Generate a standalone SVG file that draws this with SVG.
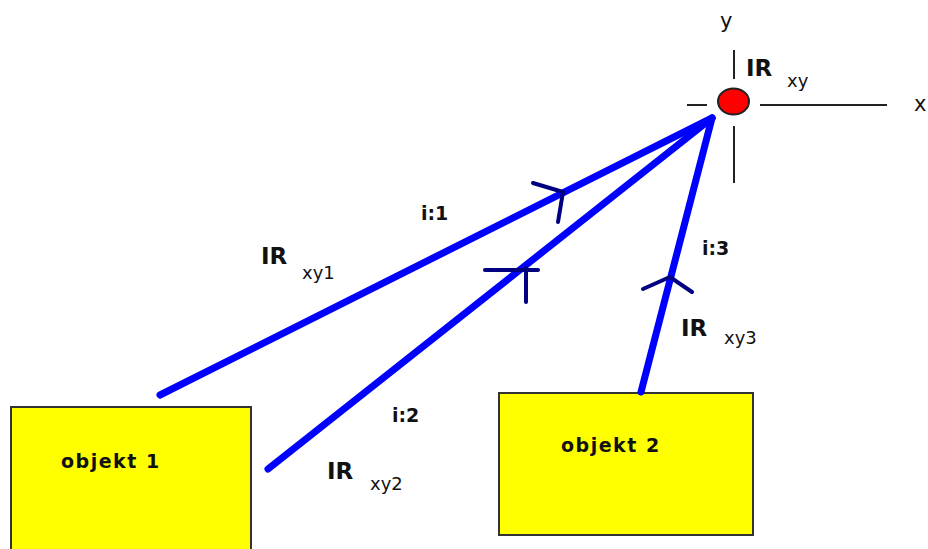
<svg xmlns="http://www.w3.org/2000/svg" width="928" height="549" viewBox="0 0 928 549">
<style>
.box{fill:#ffff00;stroke:#333;stroke-width:2}
.ray{stroke:#0000ff;stroke-width:7;stroke-linecap:round;fill:none}
.arr{stroke:#000080;stroke-width:4;stroke-linecap:round;fill:none}
.axis{stroke:#222;stroke-width:2;fill:none}
text{font-family:"DejaVu Sans","Liberation Sans",sans-serif;fill:#111}
.lbl{font-size:19px;font-weight:bold}
.obj{font-size:19px;font-weight:bold;letter-spacing:1.5px}
.ir{font-size:23px;font-weight:bold}
.sub{font-size:18px}
.ax{font-size:21px}
</style>
<rect width="928" height="549" fill="#fff"/>
<g id="obj1"><rect class="box" x="11" y="407" width="240" height="160"/><text class="obj" x="61" y="468">objekt 1</text></g>
<g id="obj2"><rect class="box" x="499" y="393" width="254" height="142"/><text class="obj" x="561" y="452">objekt 2</text></g>
<g id="axes">
<line class="axis" x1="687" y1="105" x2="707" y2="105"/>
<line class="axis" x1="760" y1="105" x2="887" y2="105"/>
<line class="axis" x1="734" y1="50" x2="734" y2="79"/>
<line class="axis" x1="734" y1="126" x2="734" y2="183"/>
<text class="ax" x="720" y="28">y</text>
<text class="ax" x="914" y="111">x</text>
</g>
<g id="point"><ellipse cx="733.5" cy="101.5" rx="15.5" ry="13" fill="#ff0000" stroke="#222" stroke-width="2"/>
<text class="ir" x="746" y="76">IR</text><text class="sub" x="787" y="87">xy</text></g>
<g id="connectors">
<line class="ray" x1="160" y1="395" x2="712" y2="118"/>
<line class="ray" x1="268" y1="469" x2="712" y2="118"/>
<line class="ray" x1="641" y1="392" x2="712" y2="118"/>
<polyline class="arr" points="533,183 563,192 558,222"/>
<polyline class="arr" points="485,270 538,270"/>
<line class="arr" x1="526" y1="268" x2="526" y2="302"/>
<polyline class="arr" points="643,289 670,277 692,292"/>
</g>
<g id="labels">
<text class="lbl" x="421" y="220">i:1</text>
<text class="ir" x="261" y="264">IR</text><text class="sub" x="302" y="279">xy1</text>
<text class="lbl" x="392" y="422">i:2</text>
<text class="ir" x="327" y="479">IR</text><text class="sub" x="370" y="490">xy2</text>
<text class="lbl" x="702" y="255">i:3</text>
<text class="ir" x="681" y="336">IR</text><text class="sub" x="724" y="344">xy3</text>
</g>
</svg>
